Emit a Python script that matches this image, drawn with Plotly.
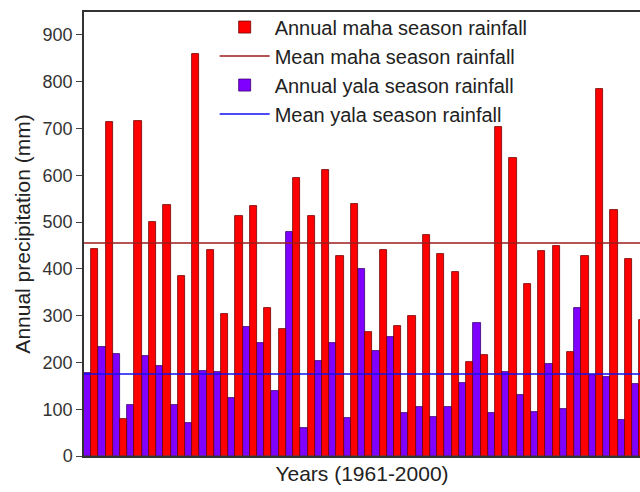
import plotly.graph_objects as go

years = list(range(1961, 2000))
maha = [442, 714, 79, 716, 500, 537, 385, 860, 440, 303,
        512, 534, 316, 271, 594, 512, 611, 428, 539, 264,
        440, 278, 299, 472, 432, 393, 201, 216, 703, 637,
        368, 438, 449, 222, 428, 784, 526, 421, 290]
yala = [177, 233, 218, 109, 214, 192, 109, 70, 182, 180,
        124, 276, 242, 139, 478, 60, 203, 242, 82, 400,
        224, 255, 92, 105, 84, 105, 156, 284, 92, 180,
        130, 94, 197, 100, 316, 174, 169, 77, 154]
mean_maha = 455
mean_yala = 175

font = "Liberation Sans, Arial, sans-serif"

fig = go.Figure()
fig.add_trace(go.Bar(x=years, y=yala, name="Annual yala season rainfall",
                     marker=dict(color="#7F00FF", line=dict(color="#3a0070", width=0.8)),
                     legendrank=3))
fig.add_trace(go.Bar(x=years, y=maha, name="Annual maha season rainfall",
                     marker=dict(color="#FF0000", line=dict(color="#700000", width=0.8)),
                     legendrank=1))
x0, x1 = years[0] - 0.5, years[-1] + 1.5
fig.add_trace(go.Scatter(x=[x0, x1], y=[mean_maha, mean_maha], mode="lines",
                         line=dict(color="#9B1B1B", width=1.5),
                         name="Mean maha season rainfall", legendrank=2))
fig.add_trace(go.Scatter(x=[x0, x1], y=[mean_yala, mean_yala], mode="lines",
                         line=dict(color="#1010F0", width=1.5),
                         name="Mean yala season rainfall", legendrank=4))

fig.update_layout(
    width=640, height=492,
    margin=dict(l=84, r=0, t=12, b=36),
    paper_bgcolor="white", plot_bgcolor="white",
    barmode="group", bargap=0, bargroupgap=0,
    font=dict(family=font, color="#222222"),
    showlegend=True,
    legend=dict(x=0.235, y=1.01, xanchor="left", yanchor="top",
                bgcolor="rgba(0,0,0,0)", font=dict(size=20, family=font, color="#222222"),
                itemwidth=50, tracegroupgap=0),
    xaxis=dict(range=[1960.5, 1999.06], showticklabels=False, ticks="",
               showline=True, linecolor="#333333", linewidth=1.5, mirror=True,
               showgrid=False, zeroline=False,
               title=dict(text="Years (1961-2000)", font=dict(size=21, family=font, color="#222222"),
                          standoff=10)),
    yaxis=dict(range=[0, 949], tickvals=list(range(0, 1000, 100)),
               ticks="outside", ticklen=6, tickcolor="#444444", tickwidth=1.2,
               tickfont=dict(size=18, family=font, color="#333333"),
               showline=True, linecolor="#333333", linewidth=1.5,
               showgrid=False, zeroline=False,
               title=dict(text="Annual precipitation (mm)", font=dict(size=21, family=font, color="#222222"),
                          standoff=6)),
)

fig.write_html("out.html")
